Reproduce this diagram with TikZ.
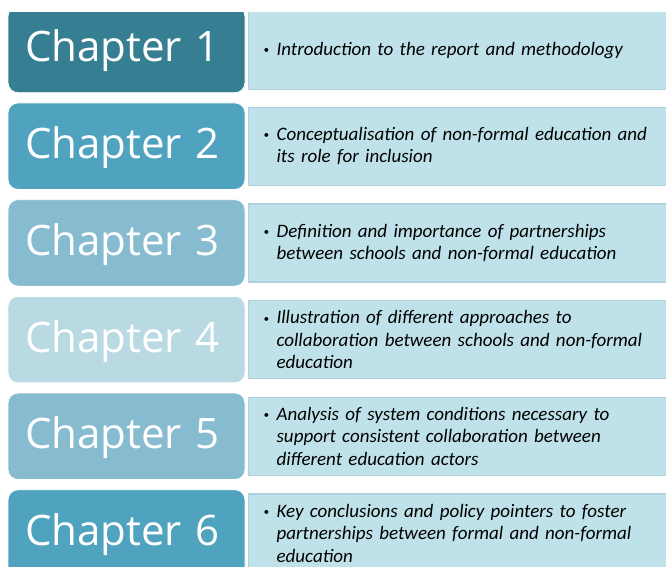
\documentclass[tikz,border=0pt]{standalone}
\usepackage{fontspec}
\setmainfont{Carlito}
\newfontfamily\chapfont{Open Sans}

\definecolor{chapA}{HTML}{367E91}
\definecolor{chapB}{HTML}{4FA3BF}
\definecolor{chapC}{HTML}{86BBD0}
\definecolor{chapD}{HTML}{B9D9E3}
\definecolor{descfill}{HTML}{BFE1E9}
\definecolor{descline}{HTML}{AED3DE}

\newcommand{\descitem}[1]{\hangindent=13pt\hangafter=1%
  \makebox[13pt][l]{\raisebox{1.5pt}{\fontsize{11}{11}\selectfont\textbullet}}#1\par}

\tikzset{
  chapbox/.style={rounded corners=10pt, minimum width=237pt, minimum height=86.5pt,
    text width=203pt, inner xsep=17pt, align=left, text=white, draw=white,
    text height=31pt, text depth=6pt,
    line width=0.8pt, font=\chapfont\fontsize{42}{50}\selectfont},
  descbox/.style={anchor=west, fill=descfill, draw=descline, line width=1.2pt,
    minimum width=432pt, minimum height=78pt, text width=402pt, inner xsep=15pt,
    align=left, font=\fontsize{19}{22.5}\selectfont\itshape},
}

\begin{document}
\begin{tikzpicture}[x=1pt, y=-1pt]
  \useasboundingbox (0, 0) rectangle (666, 567);
  \begin{scope}
  \clip (0, 13) rectangle (666, 567);

  % Descriptions
  \node[descbox] (d1) at (248, 50.5)
    {\descitem{Introduction to the report and methodology}};
  \node[descbox] (d2) at (248, 146.2)
    {\descitem{Conceptualisation of non-formal education and\newline its role for inclusion}};
  \node[descbox] (d3) at (248, 242.9)
    {\descitem{Definition and importance of partnerships\newline between schools and non-formal education}};
  \node[descbox] (d4) at (248, 339.6)
    {\descitem{Illustration of different approaches to\newline collaboration between schools and non-formal\newline education}};
  \node[descbox] (d5) at (248, 436.3)
    {\descitem{Analysis of system conditions necessary to\newline support consistent collaboration between\newline different education actors}};
  \node[descbox] (d6) at (248, 533)
    {\descitem{Key conclusions and policy pointers to foster\newline partnerships between formal and non-formal\newline education}};

  % Chapter boxes
  \node[chapbox, fill=chapA] (c1) at (126.5, 49.5) {Chapter 1};
  \node[chapbox, fill=chapB] (c2) at (126.5, 146.2) {Chapter 2};
  \node[chapbox, fill=chapC] (c3) at (126.5, 242.9) {Chapter 3};
  \node[chapbox, fill=chapD] (c4) at (126.5, 339.6) {Chapter 4};
  \node[chapbox, fill=chapC] (c5) at (126.5, 436.3) {Chapter 5};
  \node[chapbox, fill=chapB] (c6) at (126.5, 533) {Chapter 6};
  \end{scope}
\end{tikzpicture}
\end{document}
